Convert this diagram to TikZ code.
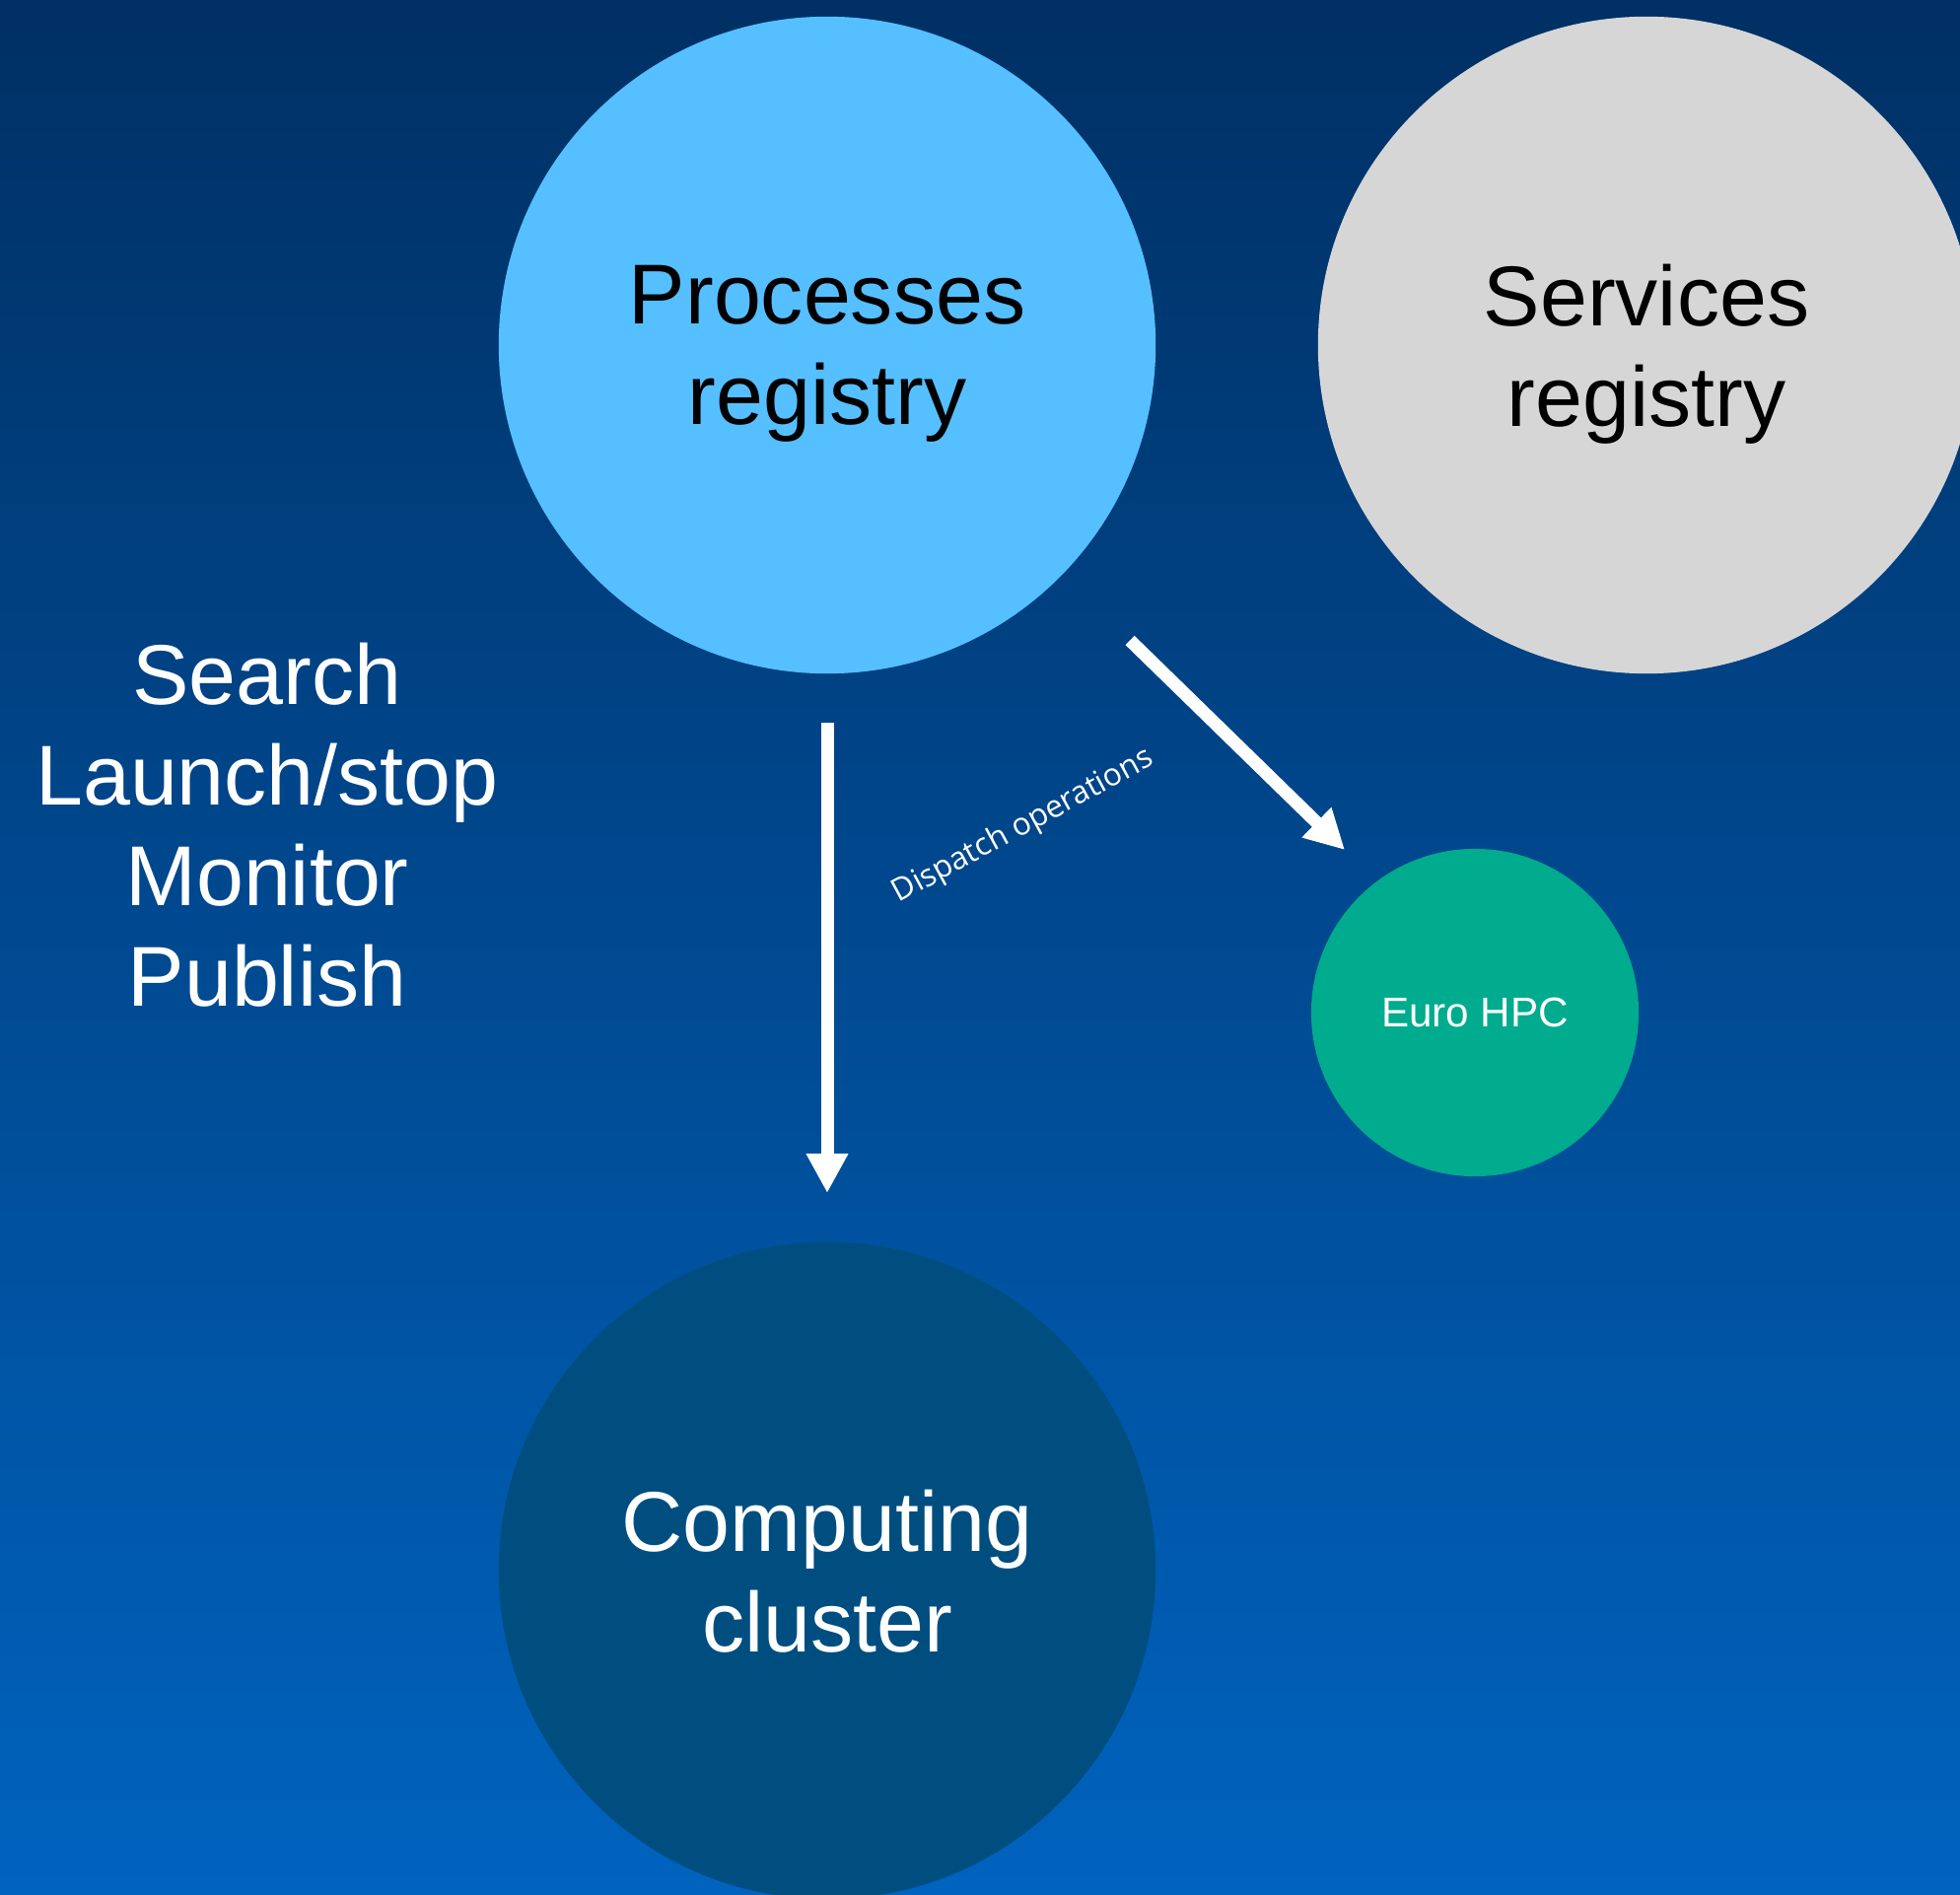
\documentclass[tikz,border=0pt]{standalone}
\usepackage{fontspec}
\setmainfont{Liberation Sans}
\newfontfamily\dispfont{Open Sans}
\usetikzlibrary{arrows.meta}

\definecolor{bgtop}{RGB}{0,48,100}
\definecolor{bgbottom}{RGB}{0,99,190}
\definecolor{procblue}{RGB}{86,191,255}
\definecolor{servgray}{RGB}{214,214,214}
\definecolor{hpcgreen}{RGB}{0,171,142}
\definecolor{clusterblue}{RGB}{0,78,128}

\tikzset{
  bubble/.style={circle, inner sep=0pt, text depth=0pt, align=center, font=\fontsize{24.5}{29}\selectfont},
  bigbubble/.style={bubble, minimum size=6.66cm},
  flow/.style={draw=white, line width=3.7pt, -{Triangle[width=4mm,length=4mm]}},
}

\begin{document}
\begin{tikzpicture}[x=0.01cm, y=-0.01cm]
            % Define background
            \useasboundingbox (0,0) rectangle (1988,1922);
            \clip (0,0) rectangle (1988,1922);
            \shade[top color=bgtop, bottom color=bgbottom] (0,0) rectangle (1988,1922);
            % Define circles
            \node[bigbubble, fill=procblue] (proc) at (839,350) {Processes\\registry};
            \node[bigbubble, fill=servgray] (serv) at (1670,350) {Services\\registry};
            \node[bigbubble, fill=clusterblue, text=white] (cluster) at (839,1593) {Computing\\cluster};
            \node[bubble, fill=hpcgreen, text=white, minimum size=3.32cm, font=\fontsize{12}{14}\selectfont] (euro) at (1496,1027) {Euro HPC};
            \coordinate (eurotip) at (1364,862);
            % Define labels
            \node[align=center, text=white, font=\fontsize{24.5}{29}\selectfont] (ops) at (271,837) {Search\\Launch/stop\\Monitor\\Publish};
            \node[rotate=28.5, text=white, font=\dispfont\fontsize{9}{11}\selectfont] (dispatch) at (1038,838) {Dispatch operations};
            % Draw arrows
            \draw[flow, shorten <=0.49cm, shorten >=0.49cm] (proc) -- (cluster);
            \draw[flow, shorten <=0.95cm] (proc) -- (eurotip);
        \end{tikzpicture}
\end{document}
